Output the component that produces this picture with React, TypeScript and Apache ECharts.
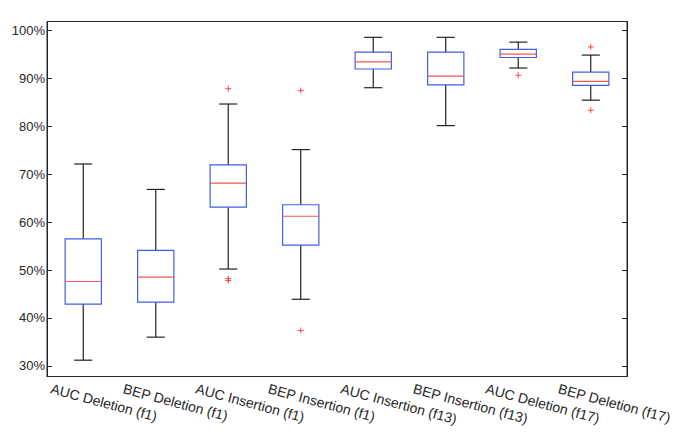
import React, { useEffect, useRef } from "react";
import * as echarts from "echarts";

const categories = [
  "AUC Deletion (f1)",
  "BEP Deletion (f1)",
  "AUC Insertion (f1)",
  "BEP Insertion (f1)",
  "AUC Insertion (f13)",
  "BEP Insertion (f13)",
  "AUC Deletion (f17)",
  "BEP Deletion (f17)",
];
// [whiskerLow, q1, median, q3, whiskerHigh] in %
const boxStats = [
  [31.2, 42.9, 47.6, 56.5, 72.1],
  [36.0, 43.3, 48.5, 54.1, 66.8],
  [50.2, 63.1, 68.1, 71.9, 84.6],
  [43.9, 55.2, 61.2, 63.6, 75.1],
  [88.0, 91.9, 93.4, 95.4, 98.5],
  [80.1, 88.6, 90.4, 95.4, 98.5],
  [92.1, 94.3, 95.0, 96.0, 97.5],
  [85.4, 88.5, 89.3, 91.25, 94.8],
];
const outliers = [
  [],
  [],
  [87.8, 47.8, 48.2],
  [87.4, 37.4],
  [],
  [],
  [90.6],
  [96.5, 83.3],
];
const yTicks = [30, 40, 50, 60, 70, 80, 90, 100];
const yMin = 27.8;
const yMax = 101.8;

const FONT = "'Liberation Sans', Arial, sans-serif";
const AXIS_COLOR = "#262626";
const BOX_COLOR = "#3f5fe8";
const MEDIAN_COLOR = "#f0584a";
const WHISKER_COLOR = "#222222";

export default function App() {
  const ref = useRef<HTMLDivElement>(null);
  useEffect(() => {
    if (!ref.current) return;
    const chart = echarts.init(ref.current, null, { renderer: "svg" });
    const boxData = boxStats.map((s, i) => [i, ...s]);
    const outlierData: number[][] = [];
    outliers.forEach((arr, i) => arr.forEach((v) => outlierData.push([i, v])));

    chart.setOption({
      animation: false,
      backgroundColor: "#ffffff",
      grid: {
        left: 47,
        right: 58,
        top: 21.5,
        bottom: 60.5,
        show: true,
        borderColor: AXIS_COLOR,
        borderWidth: 1,
      },
      xAxis: {
        type: "category",
        data: categories,
        axisLine: { show: true, lineStyle: { color: AXIS_COLOR, width: 1 } },
        axisTick: { show: false },
        axisLabel: { show: false },
        splitLine: { show: false },
      },
      yAxis: [
        {
          type: "value",
          min: yMin,
          max: yMax,
          position: "left",
          axisLine: { show: true, lineStyle: { color: AXIS_COLOR, width: 1 } },
          axisTick: {
            show: true,
            inside: true,
            length: 5,
            customValues: yTicks,
            lineStyle: { color: AXIS_COLOR },
          },
          axisLabel: {
            customValues: yTicks,
            formatter: (v: number) => `${v}%`,
            color: AXIS_COLOR,
            fontSize: 13,
            fontFamily: FONT,
            margin: 2,
          },
          splitLine: { show: false },
        },
        {
          type: "value",
          min: yMin,
          max: yMax,
          position: "right",
          axisLine: { show: true, lineStyle: { color: AXIS_COLOR, width: 1 } },
          axisTick: {
            show: true,
            inside: true,
            length: 5,
            customValues: yTicks,
            lineStyle: { color: AXIS_COLOR },
          },
          axisLabel: { show: false },
          splitLine: { show: false },
        },
      ],
      series: [
        {
          type: "custom",
          data: boxData,
          encode: { x: 0, y: [1, 2, 3, 4, 5] },
          clip: false,
          renderItem: (params: any, api: any) => {
            const x = api.value(0);
            const lo = api.coord([x, api.value(1)]);
            const q1 = api.coord([x, api.value(2)]);
            const med = api.coord([x, api.value(3)]);
            const q3 = api.coord([x, api.value(4)]);
            const hi = api.coord([x, api.value(5)]);
            const bottom = api.coord([x, yMin]);
            const band = api.size([1, 0])[0];
            const bw = band * 0.5;
            const cw = band * 0.25;
            const cx = lo[0];
            const wStyle = { stroke: WHISKER_COLOR, lineWidth: 1.2 };
            return {
              type: "group",
              children: [
                { type: "line", shape: { x1: cx, y1: q3[1], x2: cx, y2: hi[1] }, style: wStyle },
                { type: "line", shape: { x1: cx, y1: q1[1], x2: cx, y2: lo[1] }, style: wStyle },
                { type: "line", shape: { x1: cx - cw / 2, y1: hi[1], x2: cx + cw / 2, y2: hi[1] }, style: wStyle },
                { type: "line", shape: { x1: cx - cw / 2, y1: lo[1], x2: cx + cw / 2, y2: lo[1] }, style: wStyle },
                {
                  type: "rect",
                  shape: { x: cx - bw / 2, y: q3[1], width: bw, height: q1[1] - q3[1] },
                  style: { fill: "#ffffff", stroke: BOX_COLOR, lineWidth: 1.2 },
                },
                {
                  type: "line",
                  shape: { x1: cx - bw / 2, y1: med[1], x2: cx + bw / 2, y2: med[1] },
                  style: { stroke: MEDIAN_COLOR, lineWidth: 1.2 },
                },
                {
                  type: "text",
                  x: cx - 30.5,
                  y: bottom[1] + 5,
                  rotation: (-15 * Math.PI) / 180,
                  style: {
                    text: categories[x],
                    fill: AXIS_COLOR,
                    fontSize: 14,
                    fontFamily: FONT,
                    align: "left",
                    verticalAlign: "top",
                  },
                },
              ],
            };
          },
          z: 2,
        },
        {
          type: "scatter",
          data: outlierData,
          symbol: "path://M0,5L10,5M5,0L5,10",
          symbolSize: 6,
          itemStyle: { color: "none", borderColor: "#ff2020", borderWidth: 1 },
          z: 3,
        },
      ],
    });
    return () => chart.dispose();
  }, []);
  return (
    <div
      ref={ref}
      style={{ position: "fixed", left: 0, top: 0, width: 685, height: 437 }}
    />
  );
}
